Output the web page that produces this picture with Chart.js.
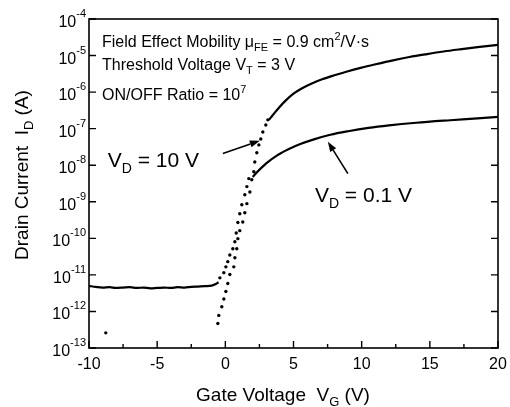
<!DOCTYPE html>
<html>
<head>
<meta charset="utf-8">
<script src="https://cdn.jsdelivr.net/npm/chart.js@4.4.1/dist/chart.umd.min.js"></script>
<style>
  html, body { margin: 0; padding: 0; background: #fff; }
  #wrap { width: 510px; height: 407px; }
</style>
</head>
<body>
<div id="wrap"><canvas id="chart"></canvas></div>
<script>
// Transfer curves: gate voltage VG (V) vs drain current ID (A)

// VD = 0.1 V, off state (solid)
const lowOffVG = [-10, -9.5, -9, -8.5, -8, -7.5, -7, -6.5, -6, -5.5, -5, -4.5, -4, -3.5, -3, -2.5, -2, -1.5, -1, -0.7, -0.5];
const lowOffID = [5.0e-12, 4.7e-12, 4.5e-12, 4.6e-12, 4.4e-12, 4.5e-12, 4.6e-12, 4.4e-12, 4.5e-12, 4.3e-12, 4.4e-12,
  4.5e-12, 4.4e-12, 4.6e-12, 4.5e-12, 4.7e-12, 4.8e-12, 4.9e-12, 5.1e-12, 5.6e-12, 6.3e-12];
// VD = 0.1 V, subthreshold (dotted)
const lowDotVG = [-0.40, -0.11, 0.04, 0.18, 0.33, 0.55, 0.70, 0.80, 0.92, 1.06, 1.21, 1.43, 1.58, 1.72];
const lowDotID = [8.3e-12, 1.15e-11, 1.66e-11, 2.3e-11, 3.5e-11, 5.2e-11, 8.1e-11, 1.4e-10, 2.7e-10, 4.7e-10, 8.3e-10,
  1.55e-9, 2.6e-9, 4.3e-9];
// VD = 0.1 V, on state (solid)
const lowOnVG = [2.0, 2.4, 3.0, 3.8, 4.7, 5.5, 6.5, 7.7, 9.0, 10.5, 12, 14, 16.5, 18.5, 20];
const lowOnID = [4.8e-9, 6.9e-9, 1.12e-8, 1.86e-8, 2.82e-8, 3.8e-8, 5.1e-8, 6.8e-8, 8.5e-8, 1.05e-7, 1.23e-7, 1.45e-7,
  1.7e-7, 1.91e-7, 2.09e-7];

// VD = 10 V, subthreshold (dotted)
const highDotVG = [-0.55, -0.48, -0.26, -0.11, 0.04, 0.18, 0.33, 0.62, 0.70, 0.84, 0.92, 1.06, 1.28, 1.43, 1.58, 1.80,
  1.94, 2.09, 2.16, 2.31, 2.46, 2.60, 2.75, 2.97, 3.12];
const highDotID = [4.7e-13, 7.8e-13, 1.35e-12, 2.2e-12, 3.5e-12, 5.8e-12, 1.02e-11, 1.66e-11, 2.95e-11, 5.2e-11, 9.8e-11,
  1.62e-10, 2.8e-10, 5.0e-10, 8.9e-10, 1.86e-9, 4.0e-9, 6.6e-9, 1.23e-8, 2.2e-8, 3.6e-8, 5.2e-8, 8.1e-8, 1.26e-7, 1.74e-7];
// VD = 10 V, on state (solid)
const highOnVG = [3.2, 3.5, 3.9, 4.4, 5.0, 5.6, 6.3, 7.1, 8.0, 9.0, 10, 11, 12.3, 13.5, 14.8, 16, 17.2, 18.5, 20];
const highOnID = [1.74e-7, 2.4e-7, 3.63e-7, 5.75e-7, 9.1e-7, 1.26e-6, 1.7e-6, 2.24e-6, 2.88e-6, 3.72e-6, 4.68e-6, 5.75e-6,
  7.41e-6, 9.12e-6, 1.1e-5, 1.29e-5, 1.48e-5, 1.7e-5, 1.95e-5];

// lone dot in the lower left
const strayVG = [-8.77];
const strayID = [2.6e-13];

const xMajorTicks = [-10, -5, 0, 5, 10, 15, 20];
const xMinorTicks = [-7.5, -2.5, 2.5, 7.5, 12.5, 17.5];
const yTickExponents = [-4, -5, -6, -7, -8, -9, -10, -11, -12, -13];

const FONT = '"Liberation Sans", Arial, Helvetica, sans-serif';

const pts = (xs, ys) => xs.map((v, i) => ({ x: v, y: ys[i] }));

const solid = (xs, ys) => ({
  data: pts(xs, ys),
  borderColor: "#000",
  borderWidth: 2.2,
  pointRadius: 0,
  cubicInterpolationMode: "monotone",
  fill: false,
});

const dotted = (xs, ys) => ({
  data: pts(xs, ys),
  showLine: false,
  pointRadius: 1.7,
  pointBorderWidth: 0,
  pointBackgroundColor: "#000",
});

// rich text: parts are [text, size, baselineShift]
function drawRich(ctx, parts, x, y, align) {
  let w = 0;
  parts.forEach((p) => {
    ctx.font = p[1] + "px " + FONT;
    w += ctx.measureText(p[0]).width;
  });
  let cx = align === "right" ? x - w : align === "center" ? x - w / 2 : x;
  ctx.textAlign = "left";
  ctx.textBaseline = "alphabetic";
  parts.forEach((p) => {
    ctx.font = p[1] + "px " + FONT;
    ctx.fillText(p[0], cx, y + (p[2] || 0));
    cx += ctx.measureText(p[0]).width;
  });
}

function arrow(ctx, x0, y0, x1, y1) {
  const ang = Math.atan2(y1 - y0, x1 - x0);
  const len = 10, half = 3.5;
  const bx = x1 - len * Math.cos(ang), by = y1 - len * Math.sin(ang);
  ctx.beginPath();
  ctx.moveTo(x0, y0);
  ctx.lineTo(bx, by);
  ctx.lineWidth = 1.6;
  ctx.stroke();
  ctx.beginPath();
  ctx.moveTo(x1, y1);
  ctx.lineTo(bx + half * Math.sin(ang), by - half * Math.cos(ang));
  ctx.lineTo(bx - half * Math.sin(ang), by + half * Math.cos(ang));
  ctx.closePath();
  ctx.fill();
}

const overlay = {
  id: "overlay",
  afterDraw(chart) {
    const { ctx, chartArea: a, scales } = chart;
    const xs = scales.x, ys = scales.y;
    ctx.save();
    ctx.fillStyle = "#000";
    ctx.strokeStyle = "#000";

    // frame
    ctx.lineWidth = 1.6;
    ctx.strokeRect(a.left, a.top, a.right - a.left, a.bottom - a.top);

    // x ticks (inward) and labels
    ctx.lineWidth = 1.4;
    xMajorTicks.forEach((v) => {
      const px = xs.getPixelForValue(v);
      ctx.beginPath();
      ctx.moveTo(px, a.bottom);
      ctx.lineTo(px, a.bottom - 7);
      ctx.stroke();
      drawRich(ctx, [[String(v), 16]], px, a.bottom + 21, "center");
    });
    xMinorTicks.forEach((v) => {
      const px = xs.getPixelForValue(v);
      ctx.beginPath();
      ctx.moveTo(px, a.bottom);
      ctx.lineTo(px, a.bottom - 4);
      ctx.stroke();
    });

    // y ticks on both sides and labels
    yTickExponents.forEach((e) => {
      const py = ys.getPixelForValue(Math.pow(10, e));
      ctx.beginPath();
      ctx.moveTo(a.left, py);
      ctx.lineTo(a.left + 7, py);
      ctx.moveTo(a.right, py);
      ctx.lineTo(a.right - 7, py);
      ctx.stroke();
      drawRich(ctx, [["10", 16], [String(e), 11, -10]], a.left - 3, py + 8, "right");
    });

    // axis titles
    drawRich(ctx, [["Gate Voltage  V", 19], ["G", 13, 5], [" (V)", 19]], 283, 401, "center");
    ctx.save();
    ctx.translate(28, 175);
    ctx.rotate(-Math.PI / 2);
    drawRich(ctx, [["Drain Current  I", 19], ["D", 13, 5], [" (A)", 19]], 0, 0, "center");
    ctx.restore();

    // parameters box text
    const tx = a.left + 13;
    drawRich(ctx, [["Field Effect Mobility ", 16], ["\u03bc", 16], ["FE", 11, 4], [" = 0.9 cm", 16], ["2", 11, -7], ["/V\u00b7s", 16]], tx, 47, "left");
    drawRich(ctx, [["Threshold Voltage V", 16], ["T", 11, 4], [" = 3 V", 16]], tx, 70, "left");
    drawRich(ctx, [["ON/OFF Ratio = 10", 16], ["7", 11, -7]], tx, 100, "left");

    // curve labels and arrows, placed in data coordinates
    drawRich(ctx, [["V", 21], ["D", 14, 6], [" = 10 V", 21]], xs.getPixelForValue(-8.62), ys.getPixelForValue(9.1e-9), "left");
    drawRich(ctx, [["V", 21], ["D", 14, 6], [" = 0.1 V", 21]], xs.getPixelForValue(6.57), ys.getPixelForValue(1.0e-9), "left");
    arrow(ctx, xs.getPixelForValue(-0.18), ys.getPixelForValue(2.1e-8), xs.getPixelForValue(2.53), ys.getPixelForValue(4.7e-8));
    arrow(ctx, xs.getPixelForValue(8.99), ys.getPixelForValue(5.9e-9), xs.getPixelForValue(7.52), ys.getPixelForValue(4.4e-8));

    ctx.restore();
  },
};

new Chart(document.getElementById("chart"), {
  type: "line",
  data: {
    datasets: [
      solid(lowOffVG, lowOffID),
      dotted(lowDotVG, lowDotID),
      solid(lowOnVG, lowOnID),
      dotted(highDotVG, highDotID),
      solid(highOnVG, highOnID),
      dotted(strayVG, strayID),
    ],
  },
  options: {
    animation: false,
    responsive: true,
    maintainAspectRatio: false,
    layout: { padding: { left: 89, top: 19, right: 12, bottom: 59 } },
    plugins: { legend: { display: false }, tooltip: { enabled: false } },
    scales: {
      x: { type: "linear", min: -10, max: 20, display: false },
      y: { type: "logarithmic", min: 1e-13, max: 1e-4, display: false },
    },
  },
  plugins: [overlay],
});
</script>
</body>
</html>
